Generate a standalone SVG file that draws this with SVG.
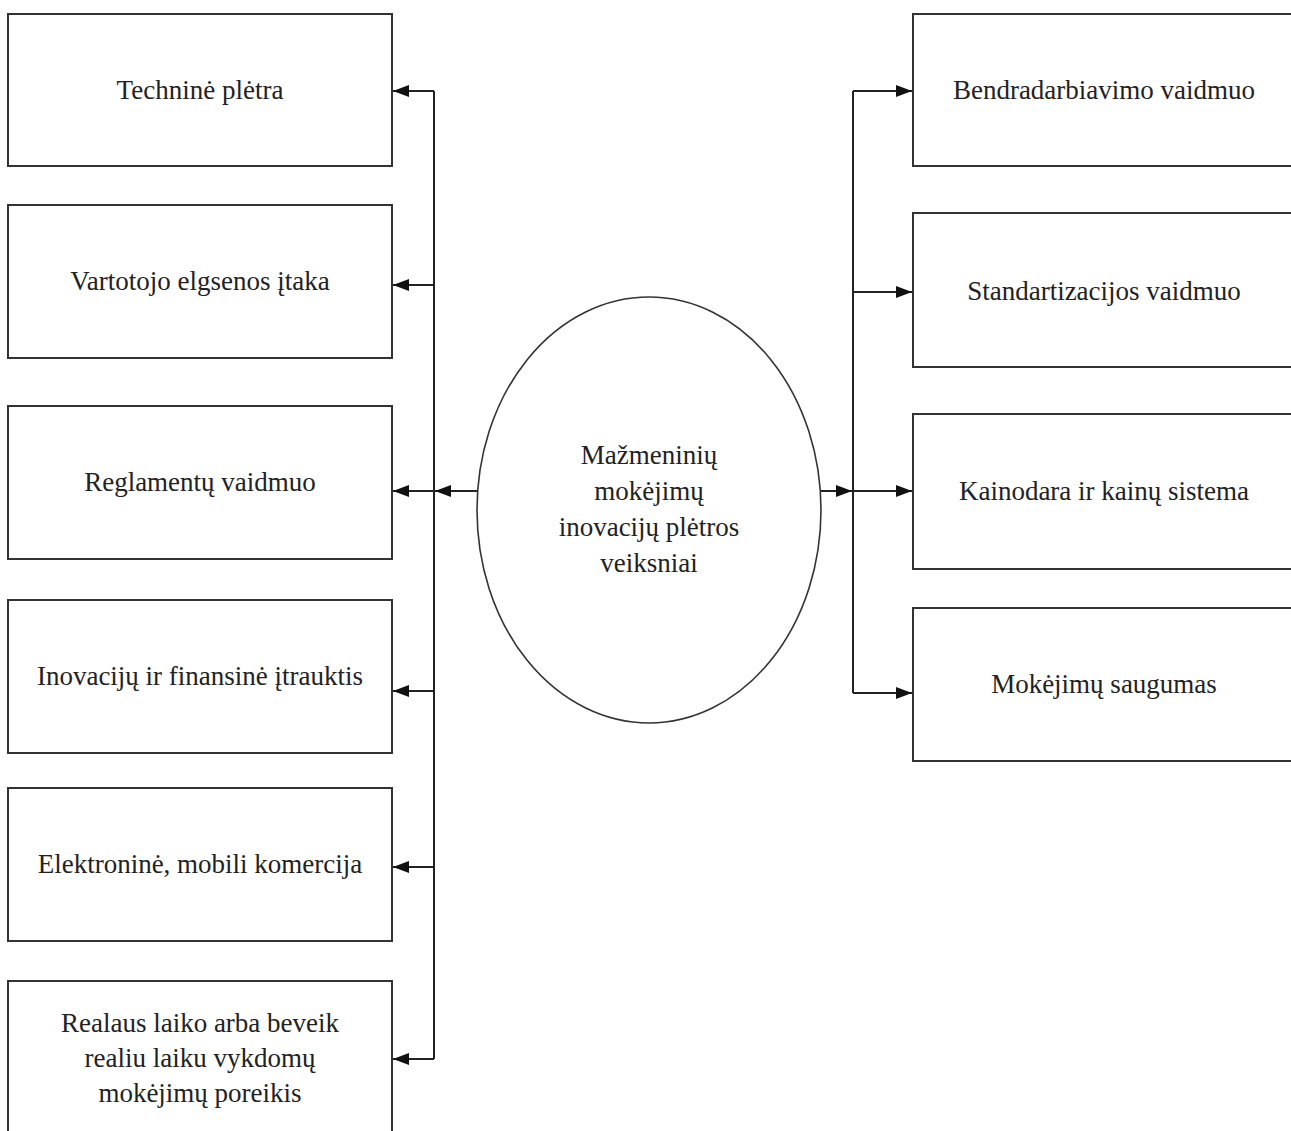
<svg xmlns="http://www.w3.org/2000/svg" width="1291" height="1131" viewBox="0 0 1291 1131">
<style>
.box{fill:#fff;stroke:#333;stroke-width:2}
.ell{fill:#fff;stroke:#333;stroke-width:1.6}
.ln{fill:none;stroke:#222;stroke-width:2}
text{font-family:"Liberation Serif","Times New Roman",serif;font-size:27px;fill:#222;text-anchor:middle}
</style>
<defs>
<marker id="ah" viewBox="0 0 16 12" refX="16" refY="6" markerWidth="16" markerHeight="12" markerUnits="userSpaceOnUse" orient="auto">
<path d="M0,0 L16,6 L0,12 Z" fill="#111"/>
</marker>
</defs>
<rect width="1291" height="1131" fill="#fff"/>
<g id="connectors">
<path class="ln" d="M434,91 V1059"/>
<path class="ln" d="M853,91 V693"/>
<path class="ln" d="M477,491 H435" marker-end="url(#ah)"/>
<path class="ln" d="M434,91 H393" marker-end="url(#ah)"/>
<path class="ln" d="M434,285 H393" marker-end="url(#ah)"/>
<path class="ln" d="M434,491 H393" marker-end="url(#ah)"/>
<path class="ln" d="M434,691 H393" marker-end="url(#ah)"/>
<path class="ln" d="M434,867 H393" marker-end="url(#ah)"/>
<path class="ln" d="M434,1059 H393" marker-end="url(#ah)"/>
<path class="ln" d="M821,491 H852" marker-end="url(#ah)"/>
<path class="ln" d="M853,91 H912" marker-end="url(#ah)"/>
<path class="ln" d="M853,292 H912" marker-end="url(#ah)"/>
<path class="ln" d="M853,491 H912" marker-end="url(#ah)"/>
<path class="ln" d="M853,693 H912" marker-end="url(#ah)"/>
</g>
<g id="center">
<ellipse class="ell" cx="649" cy="510" rx="172" ry="213"/>
<text x="649" y="464">Mažmeninių</text>
<text x="649" y="500">mokėjimų</text>
<text x="649" y="536">inovacijų plėtros</text>
<text x="649" y="572">veiksniai</text>
</g>
<g id="l1"><rect class="box" x="8" y="14" width="384" height="152"/><text x="200" y="99">Techninė plėtra</text></g>
<g id="l2"><rect class="box" x="8" y="205" width="384" height="153"/><text x="200" y="290">Vartotojo elgsenos įtaka</text></g>
<g id="l3"><rect class="box" x="8" y="406" width="384" height="153"/><text x="200" y="491">Reglamentų vaidmuo</text></g>
<g id="l4"><rect class="box" x="8" y="600" width="384" height="153"/><text x="200" y="685">Inovacijų ir finansinė įtrauktis</text></g>
<g id="l5"><rect class="box" x="8" y="788" width="384" height="153"/><text x="200" y="873">Elektroninė, mobili komercija</text></g>
<g id="l6"><rect class="box" x="8" y="981" width="384" height="170"/>
<text x="200" y="1032">Realaus laiko arba beveik</text>
<text x="200" y="1067">realiu laiku vykdomų</text>
<text x="200" y="1102">mokėjimų poreikis</text></g>
<g id="r1"><rect class="box" x="913" y="14" width="400" height="152"/><text x="1104" y="99">Bendradarbiavimo vaidmuo</text></g>
<g id="r2"><rect class="box" x="913" y="213" width="400" height="154"/><text x="1104" y="300">Standartizacijos vaidmuo</text></g>
<g id="r3"><rect class="box" x="913" y="414" width="400" height="155"/><text x="1104" y="500">Kainodara ir kainų sistema</text></g>
<g id="r4"><rect class="box" x="913" y="608" width="400" height="153"/><text x="1104" y="693">Mokėjimų saugumas</text></g>
</svg>
